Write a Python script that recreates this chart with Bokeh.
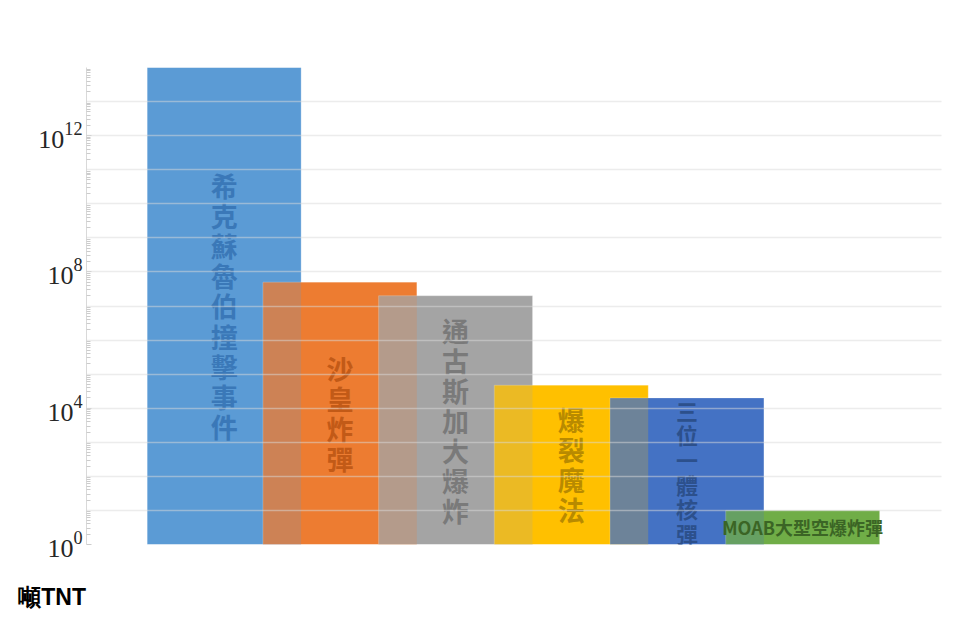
import numpy as np
from bokeh.plotting import figure
from bokeh.models import ColumnDataSource, Range1d, FixedTicker, Label
from bokeh.core.properties import value
from bokeh.embed import file_html
from bokeh.resources import INLINE

# ---- data ----
events = ["希克蘇魯伯撞擊事件", "沙皇炸彈", "通古斯加大爆炸", "爆裂魔法", "三位一體核彈", "MOAB大型空爆炸彈"]
tnt_tons = [1e14, 5e7, 2e7, 4.7e4, 2e4, 10]
major_ticks = [1, 1e4, 1e8, 1e12]
y_unit = "噸TNT"

# ---- styles ----
bar_colors = ["#5B9BD5", "#ED7D31", "#A5A5A5", "#FFC000", "#4472C4", "#70AD47"]
label_colors = ["#3a78b8", "#c25a17", "#7a7a7a", "#b88a00", "#2c508c", "#3b6525"]
label_vertical = [True, True, True, True, True, False]
label_sizes = ["27px", "27px", "27px", "27px", "22px", "18px"]

xs = list(range(len(events)))

p = figure(width=944, height=611, y_axis_type="log",
           x_range=Range1d(-1.19, 6.2), y_range=Range1d(1, 1e14),
           output_backend="svg", toolbar_location=None,
           min_border_left=86, min_border_right=3,
           min_border_top=67, min_border_bottom=67)
p.outline_line_color = None
p.background_fill_color = "white"

# opaque bars, later ones on top
src = ColumnDataSource(dict(x=xs, top=tnt_tons, color=bar_colors))
p.vbar(x="x", top="top", bottom=1, width=1.33, fill_color="color",
       line_color="white", line_alpha=0.3, line_width=1, source=src)
# translucent pass in reverse order to tint the overlaps
src2 = ColumnDataSource(dict(x=xs[::-1], top=tnt_tons[::-1], color=bar_colors[::-1]))
p.vbar(x="x", top="top", bottom=1, width=1.33, fill_color="color",
       fill_alpha=0.22, line_color=None, source=src2)

# labels inside bars (geometric middle of each bar)
label_y = [float(np.sqrt(v)) for v in tnt_tons]
label_text = ["\n".join(n) if v else n for n, v in zip(events, label_vertical)]
lsrc = ColumnDataSource(dict(x=xs, y=label_y, text=label_text,
                             color=label_colors, size=label_sizes))
p.text(x="x", y="y", text="text", text_color="color", text_font_size="size",
       text_font=value("Noto Sans CJK TC"), text_font_style="bold",
       text_align="center", text_baseline="middle", text_line_height=0.77,
       source=lsrc)

# axes & grid
p.xaxis.visible = False
p.xgrid.visible = False
p.ygrid.ticker = FixedTicker(ticks=[10.0 ** n for n in range(15)])
p.ygrid.level = "overlay"
p.ygrid.grid_line_color = "#d9d9d9"
p.ygrid.grid_line_alpha = 0.5
p.ygrid.grid_line_width = 1.5

p.yaxis.ticker = FixedTicker(ticks=major_ticks,
                             minor_ticks=[k * 10.0 ** n for n in range(14) for k in range(2, 10)])
p.yaxis.major_label_text_font = "Liberation Serif"
p.yaxis.major_label_text_font_size = "26px"
p.yaxis.major_label_text_color = "#262626"
p.yaxis.major_label_standoff = 4
p.yaxis.axis_line_color = "#d9d9d9"
p.yaxis.major_tick_in = 5
p.yaxis.major_tick_out = 0
p.yaxis.minor_tick_in = 4
p.yaxis.minor_tick_out = 0
p.yaxis.major_tick_line_color = "#cccccc"
p.yaxis.minor_tick_line_color = "#cccccc"

p.add_layout(Label(x=-1.78, y=0.028, text=y_unit,
                   text_font="Liberation Sans", text_font_style="bold",
                   text_font_size="23px", text_baseline="middle",
                   text_color="black"), "below")

open("out.html", "w").write(file_html(p, INLINE))
